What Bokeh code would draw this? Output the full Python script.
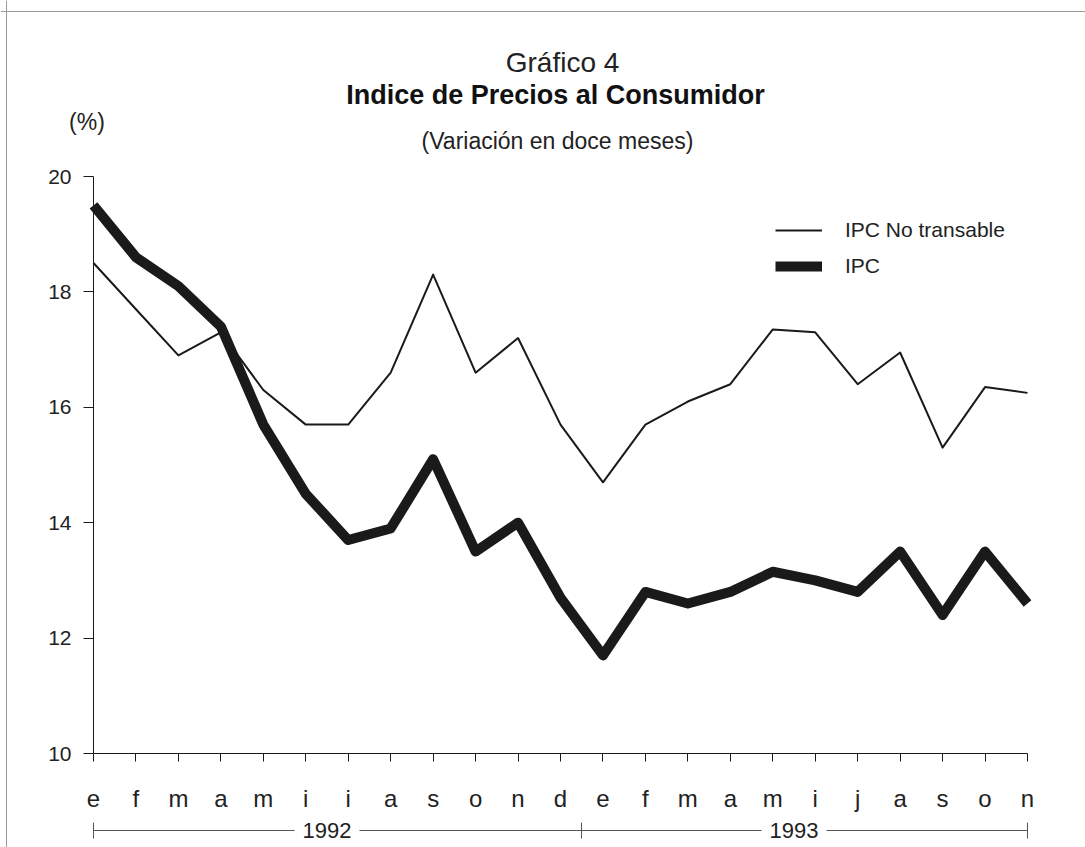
from bokeh.plotting import figure
from bokeh.models import LinearAxis, FixedTicker, Range1d, Label, Legend, LegendItem, Span
from bokeh.embed import file_html
from bokeh.resources import INLINE

# ---- data ----
months = ["e", "f", "m", "a", "m", "i", "i", "a", "s", "o", "n", "d",
          "e", "f", "m", "a", "m", "i", "j", "a", "s", "o", "n"]
ipc_no_transable = [18.5, 17.7, 16.9, 17.3, 16.3, 15.7, 15.7, 16.6, 18.3, 16.6, 17.2, 15.7,
                    14.7, 15.7, 16.1, 16.4, 17.35, 17.3, 16.4, 16.95, 15.3, 16.35, 16.25]
ipc = [19.5, 18.6, 18.1, 17.4, 15.7, 14.5, 13.7, 13.9, 15.1, 13.5, 14.0, 12.7,
       11.7, 12.8, 12.6, 12.8, 13.15, 13.0, 12.8, 13.5, 12.4, 13.5, 12.6]
years = ["1992", "1993"]
y_ticks = [10, 12, 14, 16, 18, 20]

x = list(range(len(months)))
n_last = len(months) - 1
year_bounds = [0, 11.5, n_last]
year_centers = [5.5, 16.5]

FONT = "Liberation Sans"
INK = "#1a1a1a"
TXT = "#222222"

# frame covers the whole canvas; axes are pinned with fixed_location
W, H = 1085, 847
x_px = 42.4545      # pixels per month
y_px = 57.7         # pixels per percentage point
x0_px, y10_px = 93, 753
x_range = Range1d(-x0_px / x_px, n_last + (W - x0_px - n_last * x_px) / x_px)
y_range = Range1d(10 - (H - y10_px) / y_px, 10 + y10_px / y_px)

def xd(px):
    return (px - x0_px) / x_px

def yd(py):
    return 10 + (y10_px - py) / y_px

p = figure(width=W, height=H, x_range=x_range, y_range=y_range,
           output_backend="svg", toolbar_location=None,
           x_axis_type=None, y_axis_type=None,
           min_border=0, min_border_left=0, min_border_right=0,
           min_border_top=0, min_border_bottom=0)
p.outline_line_color = None
p.background_fill_color = "white"
p.border_fill_color = "white"

# page border (left and top)
p.add_layout(Span(location=xd(6), dimension="height", line_color="#9a9a9a", line_width=1))
p.add_layout(Span(location=yd(11), dimension="width", line_color="#9a9a9a", line_width=1))

# y axis
yax = LinearAxis(ticker=FixedTicker(ticks=y_ticks), fixed_location=0, bounds=(10, 20),
                 major_tick_in=0, major_tick_out=10, minor_tick_line_color=None,
                 major_label_standoff=12, major_label_text_font_size="21px",
                 major_label_text_font=FONT, major_label_text_color=TXT,
                 axis_line_color=INK, major_tick_line_color=INK)
p.add_layout(yax, "left")

# month axis
xax = LinearAxis(ticker=FixedTicker(ticks=x), fixed_location=10, bounds=(0, n_last),
                 major_label_overrides={i: m for i, m in enumerate(months)},
                 major_tick_in=0, major_tick_out=8, minor_tick_line_color=None,
                 major_label_standoff=23, major_label_text_font_size="24px",
                 major_label_text_font=FONT, major_label_text_color=TXT,
                 axis_line_color=INK, major_tick_line_color=INK)
p.add_layout(xax, "below")

# year bracket axis
yr_ax = LinearAxis(ticker=FixedTicker(ticks=year_bounds), fixed_location=yd(830),
                   bounds=(0, n_last),
                   major_label_overrides={b: "" for b in year_bounds},
                   major_tick_in=8, major_tick_out=8, minor_tick_line_color=None,
                   major_label_standoff=0, axis_line_color="#555555",
                   major_tick_line_color="#555555")
p.add_layout(yr_ax, "below")

r1 = p.line(x, ipc_no_transable, line_width=2, line_color=INK, line_join="round")
r2 = p.line(x, ipc, line_width=10, line_color=INK, line_join="round")

legend = Legend(items=[LegendItem(label="IPC No transable", renderers=[r1]),
                       LegendItem(label="IPC", renderers=[r2])],
                location=(775, H - 278), glyph_width=47, glyph_height=20, label_standoff=23,
                spacing=12, padding=0, margin=0, border_line_color=None,
                background_fill_alpha=0, label_text_font_size="21px",
                label_text_font=FONT, label_text_color=TXT, label_height=20)
p.add_layout(legend)

# year labels on the bracket
for yc, yr in zip(year_centers, years):
    p.add_layout(Label(x=yc, y=yd(830), text=yr, text_align="center", text_baseline="middle",
                       text_font=FONT, text_font_size="22px", text_color=TXT,
                       background_fill_color="white", padding=8))

# titles
p.add_layout(Label(x=xd(562), y=yd(62), text="Gráfico 4", text_align="center",
                   text_baseline="middle", text_font=FONT, text_font_size="28px",
                   text_color=TXT))
p.add_layout(Label(x=xd(555), y=yd(94), text="Indice de Precios al Consumidor",
                   text_align="center", text_baseline="middle", text_font=FONT,
                   text_font_style="bold", text_font_size="27px", text_color="#111111"))
p.add_layout(Label(x=xd(557), y=yd(140), text="(Variación en doce meses)", text_align="center",
                   text_baseline="middle", text_font=FONT, text_font_size="23px",
                   text_color=TXT))
p.add_layout(Label(x=xd(86.5), y=yd(121), text="(%)", text_align="center",
                   text_baseline="middle", text_font=FONT, text_font_size="23px",
                   text_color=TXT))

open("out.html", "w").write(file_html(p, INLINE))
